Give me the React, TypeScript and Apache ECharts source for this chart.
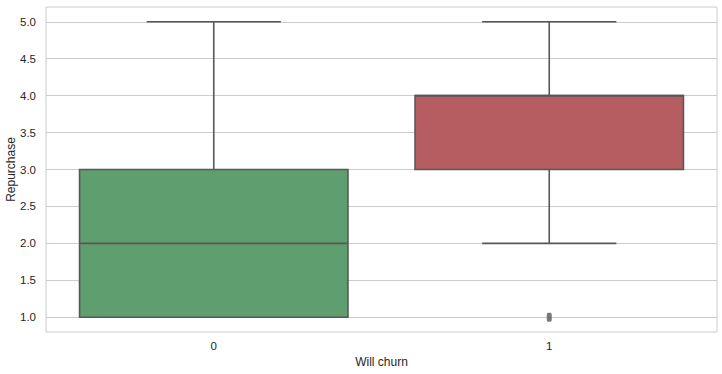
import React, { useEffect, useRef } from "react";
import * as echarts from "echarts";

const categories = ["0", "1"];
// [min, Q1, median, Q3, max]
const boxStats = [
  [1, 1, 2, 3, 5],
  [2, 3, 4, 4, 5],
];
const outliers = [[1, 1]];
const yTicks = [1.0, 1.5, 2.0, 2.5, 3.0, 3.5, 4.0, 4.5, 5.0];
const boxColors = ["#5f9e6e", "#b55d60"];

const LINE = "#575757";
const TEXT = "#262626";
const FONT = "Liberation Sans, Arial, sans-serif";

export default function App() {
  const ref = useRef<HTMLDivElement>(null);
  useEffect(() => {
    document.body.style.margin = "0";
    if (!ref.current) return;
    const chart = echarts.init(ref.current, undefined, { renderer: "svg" });
    const option: any = {
      animation: false,
      backgroundColor: "#ffffff",
      grid: {
        left: 46,
        right: 5,
        top: 7,
        bottom: 42,
        containLabel: false,
        outerBoundsMode: "none",
        show: true,
        borderColor: "#cccccc",
        borderWidth: 1,
        backgroundColor: "transparent",
      },
      xAxis: {
        type: "category",
        data: categories,
        axisLine: { show: false },
        axisTick: { show: false },
        splitLine: { show: false },
        axisLabel: { color: TEXT, fontSize: 11.5, fontFamily: FONT, margin: 8 },
        name: "Will churn",
        nameLocation: "middle",
        nameGap: 24,
        nameMoveOverlap: false,
        nameTextStyle: { color: TEXT, fontSize: 12, fontFamily: FONT },
      },
      yAxis: {
        type: "value",
        min: 0.8,
        max: 5.2,
        axisLine: { show: false },
        axisTick: { show: false },
        splitLine: { show: false },
        axisLabel: {
          customValues: yTicks,
          formatter: (v: number) => v.toFixed(1),
          color: TEXT,
          fontSize: 11.5,
          fontFamily: FONT,
          margin: 10,
        },
        name: "Repurchase",
        nameLocation: "middle",
        nameGap: 29,
        nameMoveOverlap: false,
        nameTextStyle: { color: TEXT, fontSize: 12, fontFamily: FONT },
      },
      series: [
        {
          type: "line",
          data: [],
          z: 1,
          silent: true,
          markLine: {
            silent: true,
            symbol: "none",
            label: { show: false },
            lineStyle: { color: "#cccccc", width: 1, type: "solid" },
            data: yTicks.map((v) => ({ yAxis: v })),
          },
        },
        {
          type: "custom",
          z: 5,
          data: boxStats.map((s, i) => [i, ...s]),
          renderItem: (params: any, api: any) => {
            const idx = api.value(0);
            const mn = api.value(1);
            const q1 = api.value(2);
            const md = api.value(3);
            const q3 = api.value(4);
            const mx = api.value(5);
            const band = api.size([1, 0])[0];
            const bw = band * 0.8;
            const cw = bw * 0.5;
            const pMin = api.coord([idx, mn]);
            const pQ1 = api.coord([idx, q1]);
            const pMd = api.coord([idx, md]);
            const pQ3 = api.coord([idx, q3]);
            const pMax = api.coord([idx, mx]);
            const cx = pMin[0];
            const ls = { stroke: LINE, lineWidth: 1.6 };
            return {
              type: "group",
              children: [
                { type: "line", shape: { x1: cx, y1: pQ1[1], x2: cx, y2: pMin[1] }, style: ls },
                { type: "line", shape: { x1: cx, y1: pQ3[1], x2: cx, y2: pMax[1] }, style: ls },
                { type: "line", shape: { x1: cx - cw / 2, y1: pMin[1], x2: cx + cw / 2, y2: pMin[1] }, style: ls },
                { type: "line", shape: { x1: cx - cw / 2, y1: pMax[1], x2: cx + cw / 2, y2: pMax[1] }, style: ls },
                {
                  type: "rect",
                  shape: { x: cx - bw / 2, y: pQ3[1], width: bw, height: pQ1[1] - pQ3[1] },
                  style: { fill: boxColors[idx], stroke: LINE, lineWidth: 1.6 },
                },
                { type: "line", shape: { x1: cx - bw / 2, y1: pMd[1], x2: cx + bw / 2, y2: pMd[1] }, style: ls },
              ],
            };
          },
        },
        {
          type: "scatter",
          z: 6,
          data: outliers,
          symbol: "roundRect",
          symbolSize: [5, 9],
          itemStyle: { color: LINE },
        },
      ],
    };
    chart.setOption(option);
    return () => chart.dispose();
  }, []);
  return <div ref={ref} style={{ width: 722, height: 374 }} />;
}
